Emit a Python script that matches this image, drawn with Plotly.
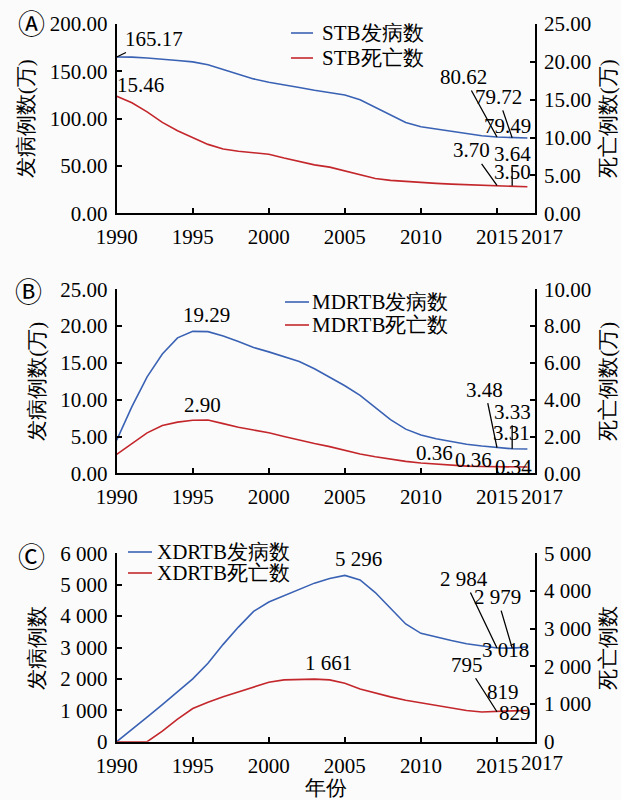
import plotly.graph_objects as go

# ---- data (1990-2017) ----
years = list(range(1990, 2018))

# STB: incidence and deaths, unit 10 000 cases
stb_incidence = [165.17, 165.0, 164.0, 163.0, 161.5, 160.0, 157.0, 152.0, 147.0, 142.0,
                 138.5, 136.0, 133.0, 130.0, 127.5, 125.0, 120.0, 112.0, 104.0, 96.0,
                 91.5, 89.0, 86.5, 84.0, 82.0, 80.62, 79.72, 79.49]
stb_deaths = [15.46, 14.6, 13.4, 12.0, 10.9, 10.0, 9.1, 8.5, 8.2, 8.0,
              7.8, 7.3, 6.8, 6.4, 6.1, 5.6, 5.0, 4.6, 4.35, 4.2,
              4.05, 3.95, 3.85, 3.78, 3.72, 3.70, 3.64, 3.50]

# MDRTB: incidence and deaths, unit 10 000 cases
mdr_incidence = [4.5, 9.05, 13.1, 16.2, 18.4, 19.29, 19.25, 18.65, 17.9, 17.1,
                 16.5, 15.9, 15.2, 14.2, 13.1, 11.9, 10.6, 8.9, 7.3, 6.0,
                 5.2, 4.7, 4.3, 3.95, 3.7, 3.48, 3.33, 3.31]
mdr_deaths = [1.03, 1.62, 2.2, 2.6, 2.78, 2.88, 2.90, 2.7, 2.5, 2.35,
              2.2, 2.0, 1.8, 1.62, 1.45, 1.25, 1.05, 0.9, 0.77, 0.65,
              0.56, 0.49, 0.43, 0.39, 0.37, 0.36, 0.36, 0.34]

# XDRTB: incidence and deaths, cases
xdr_incidence = [0, 380, 780, 1180, 1580, 2000, 2500, 3100, 3650, 4150,
                 4450, 4650, 4850, 5050, 5200, 5296, 5150, 4750, 4250, 3750,
                 3450, 3330, 3220, 3120, 3050, 2984, 2979, 3018]
xdr_deaths = [0, 0, 0, 280, 600, 880, 1050, 1190, 1320, 1450,
              1580, 1640, 1655, 1661, 1640, 1550, 1400, 1290, 1190, 1100,
              1030, 960, 890, 830, 790, 795, 819, 829]

x_tickvals = [1990, 1995, 2000, 2005, 2010, 2015]
x_ticktext = ["1990", "1995", "2000", "2005", "2010", "2015"]
x_end_value = 2017.5
x_end_text = "2017"

series_names = ["STB发病数", "STB死亡数", "MDRTB发病数", "MDRTB死亡数", "XDRTB发病数", "XDRTB死亡数"]

BLUE = "#3a62b4"
RED = "#c3272c"
SERIF = "Liberation Serif"
FS = 21
W, H = 621, 800

fig = go.Figure()

def add_pair(inc, dth, xa, ya_l, ya_r, names):
    fig.add_trace(go.Scatter(x=years, y=inc, mode="lines", name=names[0],
                             line=dict(color=BLUE, width=1.6),
                             xaxis=xa, yaxis=ya_l, showlegend=False))
    fig.add_trace(go.Scatter(x=years, y=dth, mode="lines", name=names[1],
                             line=dict(color=RED, width=1.6),
                             xaxis=xa, yaxis=ya_r, showlegend=False))

add_pair(stb_incidence, stb_deaths, "x", "y", "y2", series_names[0:2])
add_pair(mdr_incidence, mdr_deaths, "x2", "y3", "y4", series_names[2:4])
add_pair(xdr_incidence, xdr_deaths, "x3", "y5", "y6", series_names[4:6])

X_DOM = [116.7 / W, 535 / W]
def ydom(top_px, bottom_px):
    return [1 - bottom_px / H, 1 - top_px / H]

axis_common = dict(showline=True, linecolor="black", linewidth=1.8, ticks="inside",
                   ticklen=5, tickwidth=1.5, tickcolor="black", showgrid=False,
                   zeroline=False, automargin=False,
                   tickfont=dict(family=SERIF, size=FS, color="black"))

def xaxis_cfg(anchor, title=None):
    cfg = dict(axis_common, domain=X_DOM, anchor=anchor, range=[1990, x_end_value],
               tickmode="array", tickvals=x_tickvals, ticktext=x_ticktext, tickangle=0,
               ticklabelstandoff=4)
    if title:
        cfg["title"] = dict(text=title, font=dict(family=SERIF, size=FS, color="black"), standoff=8)
    return cfg

def yaxis_cfg(dom, rng, dtick, fmt, title, anchor, side="left", overlay=None):
    cfg = dict(axis_common, domain=dom, range=rng, dtick=dtick, tickformat=fmt,
               anchor=anchor, side=side, ticklabelstandoff=3,
               title=dict(text=title, font=dict(family=SERIF, size=FS, color="black"), standoff=10))
    if overlay:
        cfg["overlaying"] = overlay
    return cfg

domA = ydom(24.0, 213.3)
domB = ydom(289.3, 473.3)
domC = ydom(553.3, 741.7)

fig.update_layout(
    xaxis=xaxis_cfg("y"),
    yaxis=yaxis_cfg(domA, [0, 200], 50, ".2f", "发病例数(万)", "x"),
    yaxis2=yaxis_cfg(domA, [0, 25], 5, ".2f", "死亡例数(万)", "x", "right", "y"),
    xaxis2=xaxis_cfg("y3"),
    yaxis3=yaxis_cfg(domB, [0, 25], 5, ".2f", "发病例数(万)", "x2"),
    yaxis4=yaxis_cfg(domB, [0, 10], 2, ".2f", "死亡例数(万)", "x2", "right", "y3"),
    xaxis3=xaxis_cfg("y5", "年份"),
    yaxis5=yaxis_cfg(domC, [0, 6000], 1000, ",.0f", "发病例数", "x3"),
    yaxis6=yaxis_cfg(domC, [0, 5000], 1000, ",.0f", "死亡例数", "x3", "right", "y5"),
)

annotations = []
shapes = []

# end-of-axis year label under each panel's right corner
for xr, yr_dom, dy in [("x", "y domain", 24), ("x2", "y3 domain", 24), ("x3", "y5 domain", 21)]:
    annotations.append(dict(x=x_end_value, y=0, xref=xr, yref=yr_dom, text=x_end_text,
                            showarrow=False, xanchor="center", yanchor="middle",
                            xshift=7, yshift=-dy,
                            font=dict(family=SERIF, size=FS, color="black")))

# legend keys: (name, colour, line start px, line end px, text start px, row centre px)
legend_rows = [
    (series_names[0], BLUE, 291, 313, 320, 33),
    (series_names[1], RED, 291, 313, 320, 58),
    (series_names[2], BLUE, 285, 309, 310, 302),
    (series_names[3], RED, 285, 309, 310, 325),
    (series_names[4], BLUE, 128, 152, 155, 552),
    (series_names[5], RED, 128, 152, 155, 573),
]
for name, color, lx0, lx1, tx, cy in legend_rows:
    shapes.append(dict(type="line", xref="paper", yref="paper",
                       x0=lx0 / W, x1=lx1 / W, y0=1 - cy / H, y1=1 - cy / H,
                       line=dict(color=color, width=1.6)))
    annotations.append(dict(x=tx / W, y=1 - cy / H, xref="paper", yref="paper", text=name,
                            showarrow=False, xanchor="left", yanchor="middle",
                            font=dict(family=SERIF, size=FS, color="black")))

def fmt2(v):
    return f"{v:.2f}"

def fmt0(v):
    return f"{v:,.0f}".replace(",", " ")

def value_label(series, year, fmt, xref, yref, ax=None, ay=None, xs=0, ys=0):
    v = series[years.index(year)]
    a = dict(x=year, y=v, xref=xref, yref=yref, text=fmt(v),
             font=dict(family=SERIF, size=FS, color="black"))
    if ax is not None:
        a.update(showarrow=True, arrowhead=0, arrowwidth=1.3, arrowcolor="black",
                 ax=ax, ay=ay, standoff=0)
    else:
        a.update(showarrow=False, xanchor="center", yanchor="middle", xshift=xs, yshift=ys)
    annotations.append(a)

# panel A
value_label(stb_incidence, 1990, fmt2, "x", "y", ax=37, ay=-18)
value_label(stb_deaths, 1990, fmt2, "x", "y2", xs=24, ys=11)
value_label(stb_incidence, 2015, fmt2, "x", "y", ax=-33, ay=-60)
value_label(stb_incidence, 2016, fmt2, "x", "y", ax=-14, ay=-41)
value_label(stb_incidence, 2017, fmt2, "x", "y", xs=-20, ys=12)
value_label(stb_deaths, 2015, fmt2, "x", "y2", ax=-25, ay=-35)
value_label(stb_deaths, 2016, fmt2, "x", "y2", ax=0, ay=-32)
value_label(stb_deaths, 2017, fmt2, "x", "y2", xs=-15, ys=15)

# panel B
value_label(mdr_incidence, 1995, fmt2, "x2", "y3", xs=14, ys=16)
value_label(mdr_deaths, 1996, fmt2, "x2", "y4", xs=-5, ys=15)
value_label(mdr_incidence, 2015, fmt2, "x2", "y3", ax=-12, ay=-58)
value_label(mdr_incidence, 2016, fmt2, "x2", "y3", ax=0, ay=-37)
value_label(mdr_incidence, 2017, fmt2, "x2", "y3", xs=-16, ys=16)
value_label(mdr_deaths, 2015, fmt2, "x2", "y4", xs=-62, ys=14)
value_label(mdr_deaths, 2016, fmt2, "x2", "y4", xs=-39, ys=7)
value_label(mdr_deaths, 2017, fmt2, "x2", "y4", xs=-14, ys=0)

# panel C
value_label(xdr_incidence, 2005, fmt0, "x3", "y5", xs=14, ys=16)
value_label(xdr_deaths, 2003, fmt0, "x3", "y6", xs=14, ys=16)
value_label(xdr_incidence, 2015, fmt0, "x3", "y5", ax=-33, ay=-69)
value_label(xdr_incidence, 2016, fmt0, "x3", "y5", ax=-15, ay=-51)
value_label(xdr_incidence, 2017, fmt0, "x3", "y5", xs=-22, ys=-3)
value_label(xdr_deaths, 2015, fmt0, "x3", "y6", ax=-30, ay=-47)
value_label(xdr_deaths, 2016, fmt0, "x3", "y6", xs=-9, ys=19)
value_label(xdr_deaths, 2017, fmt0, "x3", "y6", xs=-12, ys=-3)

# panel letters
for letter, px, py in [("Ⓐ", 31.7, 22.5), ("Ⓑ", 28.0, 290.0), ("Ⓒ", 31.7, 555.0)]:
    annotations.append(dict(x=px / W, y=1 - py / H, xref="paper", yref="paper",
                            text=letter, showarrow=False, xanchor="center", yanchor="middle",
                            font=dict(family="Noto Sans CJK SC", size=27, color="black")))

fig.update_layout(
    annotations=annotations,
    shapes=shapes,
    showlegend=False,
    width=W, height=H,
    margin=dict(l=0, r=0, t=0, b=0),
    separators=". ",
    paper_bgcolor="#fbfbfb",
    plot_bgcolor="rgba(0,0,0,0)",
    font=dict(family=SERIF, size=FS, color="black"),
)

fig.write_html("out.html")
